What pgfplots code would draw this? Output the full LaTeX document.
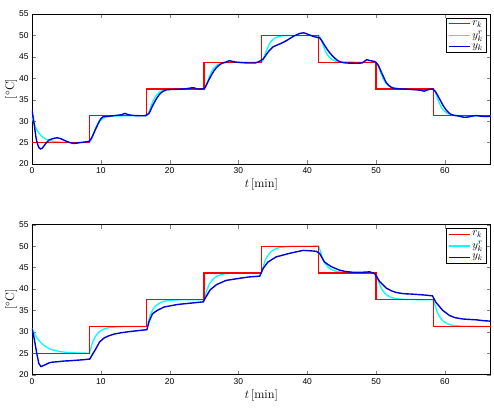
\documentclass[border=0pt]{standalone}
\usepackage{pgfplots}
\pgfplotsset{compat=1.18}
\usepackage{fontspec}
\newfontfamily\tickfont{Liberation Sans}
\definecolor{myred}{rgb}{1,0,0}
\definecolor{mycyan}{rgb}{0,1,1}
\definecolor{myblue}{rgb}{0,0,0.85}
\pgfplotsset{
  myaxis/.style={
    scale only axis, width=458.7bp, height=150bp,
    xmin=0, xmax=66.67, ymin=20, ymax=55,
    xtick={0,10,...,60}, ytick={20,25,...,55},
    tick align=inside, major tick length=4bp,
    axis line style={line width=0.8pt},
    /pgf/number format/assume math mode=true,
    ticklabel style={font=\tickfont\fontsize{8.5}{10}\selectfont},
    xlabel={$t\,[\mathrm{min}]$}, ylabel={$[^\circ\mathrm{C}]$},
    label style={font=\fontsize{12.5}{14}\selectfont},
    xlabel style={yshift=1.5bp},
    ylabel style={yshift=-5bp},
    legend style={at={(0.992,0.975)}, anchor=north east, draw=black, line width=0.6pt,
      font=\fontsize{11}{12}\selectfont, inner xsep=2pt, inner ysep=0.5pt, row sep=0pt,
      /tikz/every even column/.append style={column sep=1pt}},
    legend cell align=left,
    legend image code/.code={\draw[#1] (0bp,0bp) -- (21bp,0bp);},
  },
  myrline/.style={color=myred, line width=1.2pt},
  mycline/.style={color=mycyan, line width=1.3pt},
  mybline/.style={color=myblue, line width=1.4pt},
}
\begin{document}
\begin{tikzpicture}
\useasboundingbox (0,0) rectangle (494bp,408bp);
% ---------------- top ----------------
\begin{axis}[myaxis, at={(32bp,244bp)}, anchor=south west]
\addplot[mycline, forget plot] coordinates {
(0,31) (0.25,29.67) (0.5,28.64) (0.75,27.83) (1,27.21) (1.5,26.34) (2,25.81) (2.5,25.49) (3,25.30) (4,25.11) (5,25.04) (6,25.01) (8.33,25)
(8.58,25.56) (8.83,26.65) (9.08,27.76) (9.33,28.71) (9.58,29.46) (9.83,30.01) (10.33,30.68) (10.83,31.00) (11.33,31.14) (12.33,31.23) (16.67,31.25)
(16.92,31.81) (17.17,32.90) (17.42,34.01) (17.67,34.96) (17.92,35.71) (18.17,36.26) (18.67,36.93) (19.17,37.25) (19.67,37.39) (20.67,37.48) (25,37.5)
(25.25,38.06) (25.5,39.15) (25.75,40.26) (26,41.21) (26.25,41.96) (26.5,42.51) (27,43.18) (27.5,43.50) (28,43.64) (29,43.73) (33.33,43.75)
(33.58,44.31) (33.83,45.40) (34.08,46.51) (34.33,47.46) (34.58,48.21) (34.83,48.76) (35.33,49.43) (35.83,49.75) (36.33,49.89) (37.33,49.98) (41.67,50)
(41.92,49.44) (42.17,48.35) (42.42,47.24) (42.67,46.29) (42.92,45.54) (43.17,44.99) (43.67,44.32) (44.17,44.00) (44.67,43.86) (45.67,43.77) (50,43.75)
(50.25,43.19) (50.5,42.10) (50.75,40.99) (51,40.04) (51.25,39.29) (51.5,38.74) (52,38.07) (52.5,37.75) (53,37.61) (54,37.52) (58.33,37.5)
(58.58,36.94) (58.83,35.85) (59.08,34.74) (59.33,33.79) (59.58,33.04) (59.83,32.49) (60.33,31.82) (60.83,31.50) (61.33,31.36) (62.33,31.27) (66.67,31.25)};
\addplot[myrline, forget plot] coordinates {(0,25) (8.33,25) (8.33,31.25) (16.67,31.25) (16.67,37.5) (25,37.5) (25,43.75) (33.33,43.75) (33.33,50) (41.67,50) (41.67,43.75) (50,43.75) (50,37.5) (58.33,37.5) (58.33,31.25) (66.67,31.25)};
\addplot[mybline, smooth, forget plot] coordinates {
(0,32.6) (0.3,29.5) (0.6,26) (0.9,24.2) (1.2,23.5) (1.5,23.7) (2,24.8) (2.5,25.6) (3,25.9) (3.6,26.1) (4.2,25.9) (5,25.3) (6,24.8) (7,25.0) (8,25.2) (8.3,25.3)
(8.7,26.2) (9.1,27.6) (9.5,29.0) (9.9,30.3) (10.3,31.0) (11,31.1) (12,31.3) (13,31.5) (13.5,31.8) (14,31.5) (15,31.3) (16.5,31.3)
(17,31.8) (17.5,33.5) (18,35.0) (18.5,36.2) (19,36.9) (19.5,37.3) (20.5,37.4) (22,37.5) (23.5,37.8) (24,37.5) (25,37.6)
(25.3,38.3) (25.7,39.6) (26.2,41.1) (26.8,42.5) (27.5,43.4) (28.2,43.8) (28.7,44.1) (29.5,43.8) (31,43.6) (32.5,43.6) (33.2,44.1)
(33.6,44.5) (34,45.4) (34.5,46.5) (35,47.3) (36,48.0) (37,48.8) (38,49.8) (39,50.5) (39.5,50.6) (40.2,50.2) (41,49.7) (41.8,49.4)
(42.3,48.3) (42.8,47.0) (43.3,45.9) (44,44.7) (44.7,43.9) (45.5,43.6) (47,43.5) (48,43.6) (48.6,44.3) (49.2,44.1) (49.8,43.9)
(50.3,43.1) (50.9,41.0) (51.5,39.0) (52.2,37.9) (53,37.6) (55,37.4) (56.5,37.2) (57,37.0) (57.5,37.3) (58.2,37.5)
(58.6,37.0) (59.2,35.3) (59.7,33.8) (60.3,32.4) (61,31.5) (62,31.2) (62.8,30.9) (63.5,31.0) (64.5,31.3) (65.5,31.1) (66.67,31.1)};
\addlegendimage{myrline}
\addlegendentry{$r_k$}
\addlegendimage{mycline}
\addlegendentry{$y^r_k$}
\addlegendimage{mybline}
\addlegendentry{$y_k$}
\end{axis}
% ---------------- bottom ----------------
\begin{axis}[myaxis, at={(32bp,33.3bp)}, anchor=south west]
\addplot[mycline, forget plot] coordinates {
(0,30.8) (0.25,29.91) (0.5,29.16) (0.75,28.52) (1,27.98) (1.5,27.13) (2,26.53) (2.5,26.10) (3,25.79) (4,25.40) (5,25.21) (6,25.11) (7,25.05) (8.33,25.02)
(8.58,26.25) (8.83,27.66) (9.08,28.53) (9.33,29.19) (9.58,29.69) (9.83,30.07) (10.33,30.58) (10.83,30.86) (11.33,31.03) (12.33,31.18) (13.33,31.23) (16.67,31.25)
(16.92,32.5) (17.17,33.91) (17.42,34.78) (17.67,35.44) (17.92,35.94) (18.17,36.32) (18.67,36.83) (19.17,37.11) (19.67,37.28) (20.67,37.43) (21.67,37.48) (25,37.5)
(25.25,38.75) (25.5,40.16) (25.75,41.03) (26,41.69) (26.25,42.19) (26.5,42.57) (27,43.08) (27.5,43.36) (28,43.53) (29,43.68) (30,43.73) (33.33,43.75)
(33.58,45.0) (33.83,46.41) (34.08,47.28) (34.33,47.94) (34.58,48.44) (34.83,48.82) (35.33,49.33) (35.83,49.61) (36.33,49.78) (37.33,49.93) (38.33,49.98) (41.67,50)
(41.92,48.75) (42.17,47.34) (42.42,46.47) (42.67,45.81) (42.92,45.31) (43.17,44.93) (43.67,44.43) (44.17,44.14) (44.67,43.98) (45.67,43.83) (46.67,43.78) (50,43.75)
(50.25,42.5) (50.5,41.09) (50.75,40.22) (51,39.56) (51.25,39.06) (51.5,38.68) (52,38.18) (52.5,37.89) (53,37.73) (54,37.58) (55,37.53) (58.33,37.5)
(58.58,36.25) (58.83,34.84) (59.08,33.97) (59.33,33.31) (59.58,32.81) (59.83,32.43) (60.33,31.93) (60.83,31.64) (61.33,31.48) (62.33,31.33) (63.33,31.28) (66.67,31.25)};
\addplot[myrline, forget plot] coordinates {(0,25) (8.33,25) (8.33,31.25) (16.67,31.25) (16.67,37.5) (25,37.5) (25,43.75) (33.33,43.75) (33.33,50) (41.67,50) (41.67,43.75) (50,43.75) (50,37.5) (58.33,37.5) (58.33,31.25) (66.67,31.25)};
\addplot[mybline, forget plot] coordinates {
(0,30.8) (0.3,28.6) (0.7,24.9) (1.0,22.6) (1.3,21.9) (1.6,22.1) (1.9,22.3) (2.4,22.7) (2.8,22.9) (3.5,23.0) (4.75,23.2) (5.5,23.25) (6.7,23.4) (7.5,23.5) (8.4,23.65)
(8.7,24.5) (9.0,25.3) (9.3,26.1) (9.8,27.6) (10.5,28.6) (11.2,29.1) (12,29.5) (13,29.8) (14.4,30.1) (15.5,30.3) (16.7,30.5)
(17,32.3) (17.5,34.2) (18.2,35.0) (19.2,35.8) (20.2,36.1) (21.2,36.4) (23.1,36.7) (24.9,37.0)
(25.3,38.2) (25.9,39.8) (26.8,41.0) (28.2,42.0) (30.2,42.5) (31.5,42.8) (33.1,43.0)
(33.6,44.8) (34.3,46.3) (35.5,47.5) (37.4,48.3) (38.5,48.7) (39.4,49.0) (40.5,48.9) (41.3,48.8) (41.8,48.3)
(42.5,46.3) (43.5,45.2) (44.7,44.4) (45.5,44.1) (46.6,43.9) (48,43.9) (49.1,44.0) (49.8,43.6)
(50.5,41.8) (51.5,40.2) (52.2,39.6) (52.9,39.2) (54,38.9) (55.3,38.8) (57,38.6) (58.2,38.4)
(58.7,36.9) (59.7,35.0) (60.7,33.8) (61.5,33.3) (62.6,33.0) (63.5,32.9) (64.6,32.8) (65.6,32.6) (66.67,32.5)};
\addlegendimage{myrline}
\addlegendentry{$r_k$}
\addlegendimage{mycline}
\addlegendentry{$y^r_k$}
\addlegendimage{mybline}
\addlegendentry{$y_k$}
\end{axis}
\end{tikzpicture}
\end{document}
